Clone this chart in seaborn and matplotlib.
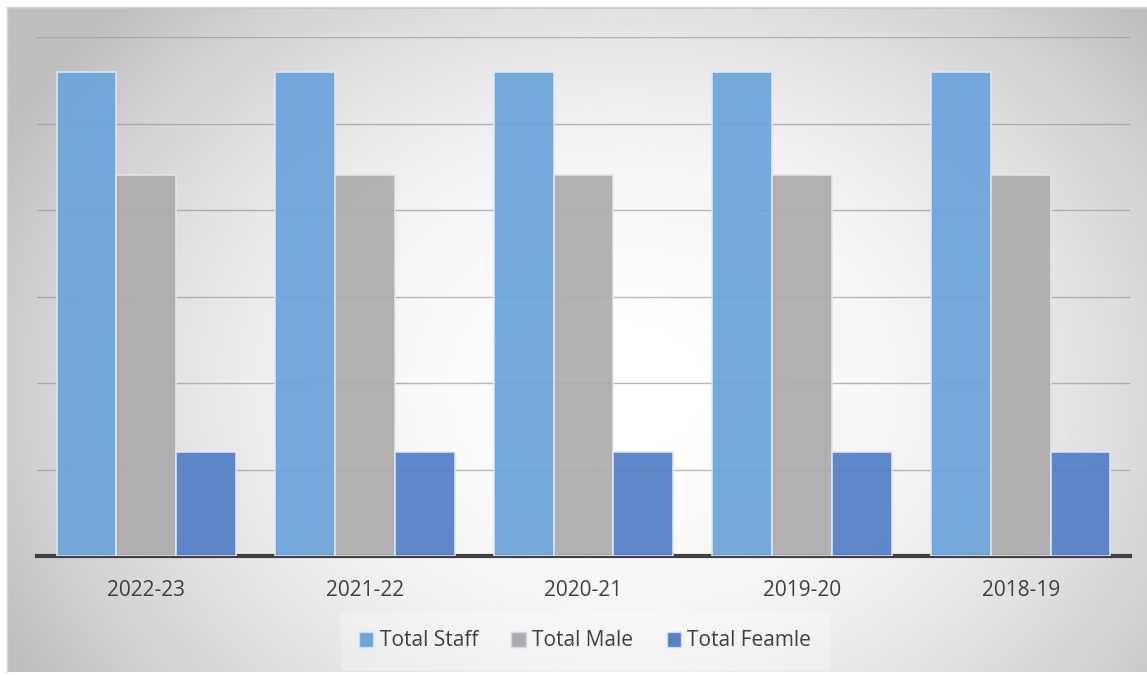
import numpy as np
import pandas as pd
import seaborn as sns
import matplotlib.pyplot as plt
from matplotlib.patches import Rectangle

# data
years = ['2022-23', '2021-22', '2020-21', '2019-20', '2018-19']
total_staff = [56, 56, 56, 56, 56]
total_male = [44, 44, 44, 44, 44]
total_female = [12, 12, 12, 12, 12]
series = ['Total Staff', 'Total Male', 'Total Feamle']
colors = ['#6DA5DA', '#ADADAD', '#5680C8']

df = pd.DataFrame({
    'Year': years * 3,
    'Series': [series[0]] * 5 + [series[1]] * 5 + [series[2]] * 5,
    'Value': total_staff + total_male + total_female,
})

sns.set_style('white')
plt.rcParams['font.family'] = ['Open Sans', 'DejaVu Sans']

fig = plt.figure(figsize=(11.47, 6.75), dpi=100)

# radial grey gradient behind the chart
bg = fig.add_axes([7 / 1147, 3 / 675, 1 - 7 / 1147, 1 - 11 / 675], zorder=0)
h, w = 300, 500
yy, xx = np.mgrid[0:h, 0:w]
cx, cy = 0.54 * w, 0.57 * h
r = np.sqrt(((xx - cx) / (w * 0.58)) ** 2 + ((yy - cy) / (h * 0.8)) ** 2)
shade = 1.0 - 0.23 * np.clip(r, 0, 1.05) ** 2.0
bg.imshow(shade, cmap='gray', vmin=0, vmax=1, aspect='auto', extent=[0, 1, 0, 1])
bg.axis('off')
fig.add_artist(plt.Line2D([7 / 1147, 1], [1 - 8 / 675, 1 - 8 / 675], color='#c8c8c8', lw=1.2))
fig.add_artist(plt.Line2D([7 / 1147, 7 / 1147], [3 / 675, 1 - 8 / 675], color='#d4d4d4', lw=1.0))

ax = fig.add_axes([37 / 1147, 119 / 675, 1093 / 1147, 519 / 675], zorder=1)
ax.patch.set_alpha(0)

sns.barplot(data=df, x='Year', y='Value', hue='Series', palette=colors,
            saturation=1, width=0.82, gap=0, alpha=0.94, edgecolor='#dde7f3',
            linewidth=1.2, ax=ax, zorder=3)

ax.set_ylim(0, 60)
ax.set_yticks(range(0, 61, 10))
ax.yaxis.grid(True, color='#a0a0a0', lw=1.0, alpha=0.75, zorder=0)
ax.set_axisbelow(True)
ax.tick_params(axis='y', left=False, labelleft=False)
ax.tick_params(axis='x', bottom=False, labelsize=15, labelcolor='#404040', pad=14)
ax.set_xlabel('')
ax.set_ylabel('')
for s in ['top', 'right', 'left']:
    ax.spines[s].set_visible(False)
ax.spines['bottom'].set_color('#404040')
ax.spines['bottom'].set_linewidth(3.0)
ax.set_xlim(-0.5, 4.5)

ax.legend_.remove()
handles = [Rectangle((0, 0), 1, 1, facecolor=c, edgecolor='#c9daf0', lw=1.0) for c in colors]
leg = fig.legend(handles, series, loc='center', bbox_to_anchor=(585 / 1147, 1 - 641 / 675),
                 ncol=3, frameon=True, fontsize=15, handlelength=0.7, handleheight=0.7,
                 handletextpad=0.3, columnspacing=1.6, borderpad=0.55)
leg.get_frame().set_facecolor('white')
leg.get_frame().set_edgecolor('white')
leg.get_frame().set_alpha(0.25)
leg.get_frame().set_boxstyle('square')
for t in leg.get_texts():
    t.set_color('#404040')

fig.savefig('out.png', dpi=100)
